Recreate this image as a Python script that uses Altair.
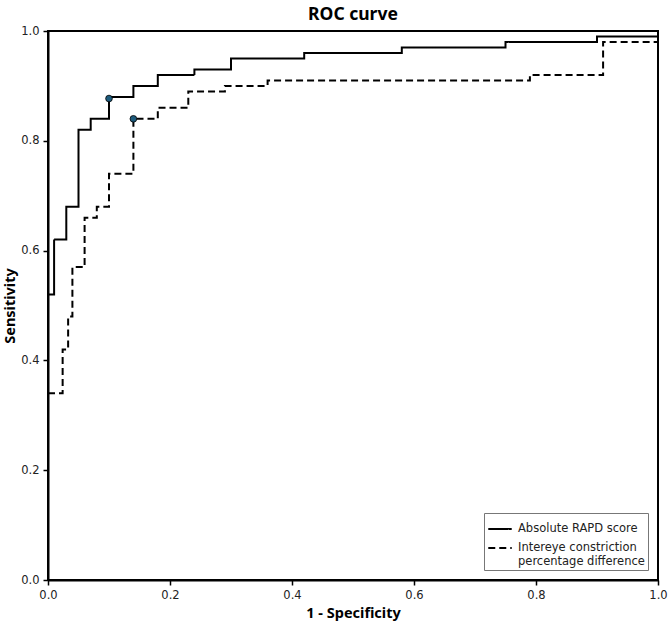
import altair as alt
import pandas as pd

# ROC operating points (1 - specificity, sensitivity) where each curve steps up
rapd_fpr = [0.0, 0.01, 0.03, 0.05, 0.07, 0.10, 0.14, 0.18, 0.24, 0.30, 0.42, 0.58, 0.75, 0.90, 1.0]
rapd_tpr = [0.52, 0.62, 0.68, 0.82, 0.84, 0.88, 0.90, 0.92, 0.93, 0.95, 0.96, 0.97, 0.98, 0.99, 1.0]

icpd_fpr = [0.0, 0.024, 0.033, 0.04, 0.06, 0.08, 0.10, 0.14, 0.18, 0.23, 0.29, 0.36, 0.79, 0.91, 1.0]
icpd_tpr = [0.34, 0.42, 0.48, 0.57, 0.66, 0.68, 0.74, 0.84, 0.86, 0.89, 0.90, 0.91, 0.92, 0.98, 1.0]

# Optimal cut-off points on each curve
cut_fpr = [0.10, 0.14]
cut_tpr = [0.877, 0.84]

SERIES = ["Absolute RAPD score", "Intereye constriction percentage difference"]

rows = []
for name, xs, ys in [(SERIES[0], rapd_fpr, rapd_tpr), (SERIES[1], icpd_fpr, icpd_tpr)]:
    for i, (x, y) in enumerate(zip(xs, ys)):
        rows.append({"series": name, "fpr": x, "tpr": y, "idx": i})
curves = pd.DataFrame(rows)
cuts = pd.DataFrame({"fpr": cut_fpr, "tpr": cut_tpr})

x_scale = alt.Scale(domain=[0, 1], nice=False, zero=False)
y_scale = alt.Scale(domain=[0, 1], nice=False, zero=False)
x_axis = alt.Axis(title="1 - Specificity", values=[0, 0.2, 0.4, 0.6, 0.8, 1.0], format=".1f")
y_axis = alt.Axis(title="Sensitivity", values=[0, 0.2, 0.4, 0.6, 0.8, 1.0], format=".1f")

lines = alt.Chart(curves).mark_line(
    interpolate="step-after", color="black", strokeWidth=2, clip=True
).encode(
    x=alt.X("fpr:Q", scale=x_scale, axis=x_axis),
    y=alt.Y("tpr:Q", scale=y_scale, axis=y_axis),
    order="idx:Q",
    strokeDash=alt.StrokeDash(
        "series:N",
        scale=alt.Scale(domain=SERIES, range=[[1, 0], [7, 4]]),
        legend=alt.Legend(
            title=None,
            orient="bottom-right",
            offset=10,
            labelExpr="datum.label == 'Absolute RAPD score' ? datum.label : ['Intereye constriction', 'percentage difference']",
        ),
    ),
)

points = alt.Chart(cuts).mark_point(
    filled=True, size=45, fill="#1d5b7c", stroke="black", strokeWidth=0.8, opacity=1
).encode(
    x=alt.X("fpr:Q", scale=x_scale),
    y=alt.Y("tpr:Q", scale=y_scale),
)

chart = (
    alt.layer(lines, points)
    .properties(
        width=610,
        height=549,
        title="ROC curve",
        autosize=alt.AutoSizeParams(type="none"),
        padding={"left": 48, "top": 31, "right": 11, "bottom": 43},
    )
    .configure_view(stroke="black", strokeWidth=2)
    .configure_title(font="Noto Sans", fontSize=17.5, fontWeight="bold", color="black", offset=2)
    .configure_axis(
        domainColor="black",
        domainWidth=2,
        tickColor="black",
        tickWidth=1.5,
        tickSize=5,
        grid=False,
        labelFont="DejaVu Sans",
        labelFontSize=11.5,
        labelColor="#222222",
        labelPadding=4,
        titleFont="Noto Sans",
        titleFontSize=14.5,
        titleFontWeight="bold",
        titleColor="black",
    )
    .configure_axisX(titlePadding=6, labelFlush=False)
    .configure_axisY(titlePadding=3, labelFlush=False)
    .configure_legend(
        strokeColor="#777777",
        fillColor="white",
        padding=3,
        cornerRadius=0,
        symbolType="stroke",
        symbolStrokeColor="black",
        symbolStrokeWidth=2,
        symbolSize=550,
        labelFont="DejaVu Sans",
        labelFontSize=11.5,
        labelColor="#222222",
        labelLimit=300,
        rowPadding=0,
        labelOffset=5,
    )
)

chart.save("out.html", embed_options={"renderer": "svg", "actions": False})
